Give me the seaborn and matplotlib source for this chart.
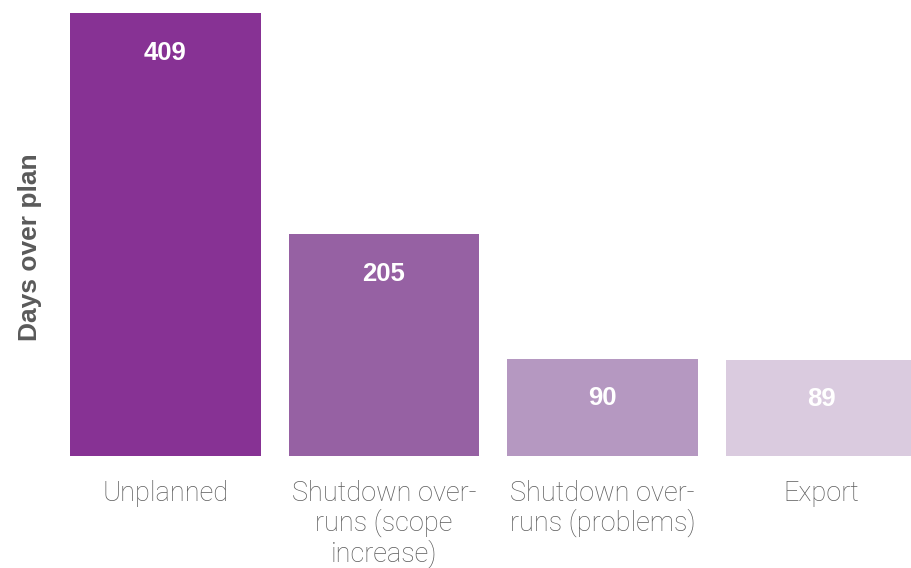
import matplotlib
matplotlib.use("Agg")
import matplotlib.pyplot as plt
import seaborn as sns
import pandas as pd

categories = ["Unplanned", "Shutdown over-\nruns (scope\nincrease)",
              "Shutdown over-\nruns (problems)", "Export"]
days_over_plan = [409, 205, 90, 89]
bar_colors = ["#873294", "#9661a3", "#b598c1", "#dacbdf"]

df = pd.DataFrame({"category": categories, "days": days_over_plan})

sns.set_theme(style="white")
plt.rcParams["font.family"] = ["Liberation Sans", "DejaVu Sans"]

fig = plt.figure(figsize=(9.11, 5.68), dpi=100)
ax = fig.add_axes([70 / 911, 1 - 456 / 568, 1 - 70 / 911, (456 - 13) / 568])

sns.barplot(data=df, x="category", y="days", hue="category",
            palette=bar_colors, width=0.872, saturation=1,
            linewidth=0, legend=False, ax=ax)

ax.set_ylim(0, 409)
ax.set_xlim(-0.436, 3.412)

for i, v in enumerate(days_over_plan):
    ax.annotate(str(v), xy=(i, v), xytext=(0, -28.5), textcoords="offset points",
                ha="center", va="center", color="white", fontsize=18.5,
                fontweight="bold")

ax.set_yticks([])
ax.set_xlabel("")
ax.set_ylabel("")
ax.tick_params(axis="x", length=0, pad=17)
for lbl in ax.get_xticklabels():
    lbl.set_fontfamily(["Roboto", "DejaVu Sans"])
    lbl.set_fontweight("light")
    lbl.set_fontsize(19.5)
    lbl.set_color("#5c5c5c")
    lbl.set_linespacing(1.1)
    lbl.set_va("top")

for s in ax.spines.values():
    s.set_visible(False)

fig.text(30 / 911, 1 - 247 / 568, "Days over plan", rotation=90,
         ha="center", va="center", fontsize=19, fontweight="bold",
         color="#5a5a5a")

fig.savefig("out.png", dpi=100)
